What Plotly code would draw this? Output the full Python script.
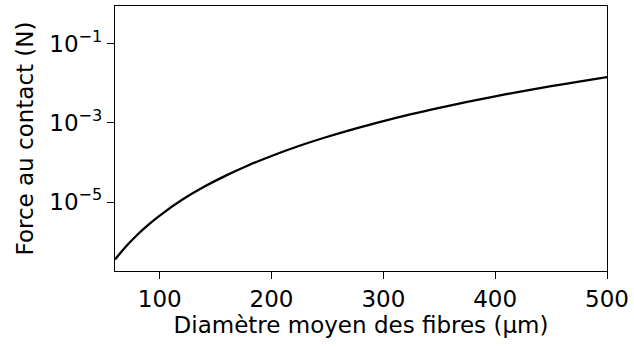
import plotly.graph_objects as go

# Mean fibre diameter (µm) and the corresponding contact force (N)
diametre_um = [60, 70, 80, 90, 100, 120, 140, 160, 180, 200, 225, 250, 275,
               300, 325, 350, 375, 400, 425, 450, 475, 500]
force_n = [3.55e-7, 7.68e-7, 1.50e-6, 2.70e-6, 4.57e-6, 1.14e-5, 2.46e-5,
           4.79e-5, 8.64e-5, 1.46e-4, 2.64e-4, 4.46e-4, 7.19e-4, 1.11e-3,
           1.66e-3, 2.40e-3, 3.39e-3, 4.68e-3, 6.34e-3, 8.43e-3, 1.10e-2,
           1.43e-2]

x_ticks = [100, 200, 300, 400, 500]
y_ticks = [1e-5, 1e-3, 1e-1]
y_tick_text = ["10<sup>−5</sup>", "10<sup>−3</sup>", "10<sup>−1</sup>"]

font = dict(family="DejaVu Sans", size=23, color="black")

fig = go.Figure(
    go.Scatter(
        x=diametre_um,
        y=force_n,
        mode="lines",
        line=dict(color="black", width=2.3, shape="spline"),
        showlegend=False,
        hoverinfo="skip",
    )
)

axis_common = dict(
    showline=True,
    linecolor="black",
    linewidth=1.2,
    mirror=True,
    showgrid=False,
    zeroline=False,
    ticks="outside",
    ticklen=7,
    tickwidth=1.2,
    tickcolor="black",
    tickfont=font,
)

fig.update_xaxes(
    range=[60, 500],
    tickvals=x_ticks,
    title=dict(text="Diamètre moyen des fibres (µm)", font=font, standoff=4),
    **axis_common,
)
fig.update_yaxes(
    type="log",
    range=[-6.74, -0.05],
    tickvals=y_ticks,
    ticktext=y_tick_text,
    title=dict(text="Force au contact (N)", font=font, standoff=9),
    **axis_common,
)

fig.update_layout(
    width=634,
    height=347,
    margin=dict(l=115, r=24, t=5, b=76),
    paper_bgcolor="white",
    plot_bgcolor="white",
    font=font,
)

fig.write_html("out.html")
